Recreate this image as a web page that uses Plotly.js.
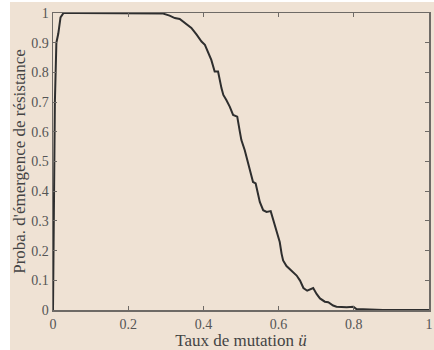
<!DOCTYPE html>
<html><head><meta charset="utf-8">
<script src="https://cdn.plot.ly/plotly-3.0.1.min.js"></script>
<style>
html,body{margin:0;padding:0;background:#ffffff;width:434px;height:350px;overflow:hidden;}
#chart{position:absolute;left:10px;top:2px;width:424px;height:348px;}
</style></head><body>
<div id="chart"></div>
<script>
const mutationRate = [0, 0.002, 0.005, 0.009, 0.014, 0.02, 0.028, 0.06, 0.1, 0.15, 0.2, 0.22, 0.25, 0.28, 0.293, 0.31, 0.324, 0.337, 0.35, 0.368, 0.382, 0.395, 0.404, 0.413, 0.421, 0.43, 0.439, 0.448, 0.453, 0.461, 0.47, 0.479, 0.484, 0.49, 0.497, 0.501, 0.51, 0.519, 0.528, 0.532, 0.539, 0.546, 0.55, 0.559, 0.568, 0.579, 0.586, 0.592, 0.599, 0.603, 0.608, 0.612, 0.621, 0.634, 0.648, 0.657, 0.666, 0.676, 0.685, 0.692, 0.701, 0.71, 0.723, 0.732, 0.745, 0.754, 0.781, 0.799, 0.807, 0.825, 0.878, 0.94, 1];
const resistanceProb = [0, 0.3, 0.7, 0.9, 0.93, 0.985, 1, 1, 1, 1, 0.998, 1, 0.999, 1, 0.998, 0.991, 0.983, 0.98, 0.968, 0.95, 0.927, 0.904, 0.893, 0.865, 0.842, 0.803, 0.803, 0.747, 0.724, 0.707, 0.685, 0.657, 0.653, 0.651, 0.6, 0.572, 0.538, 0.493, 0.448, 0.431, 0.426, 0.392, 0.364, 0.336, 0.33, 0.333, 0.302, 0.279, 0.251, 0.229, 0.189, 0.167, 0.148, 0.133, 0.116, 0.099, 0.074, 0.065, 0.071, 0.074, 0.054, 0.039, 0.028, 0.026, 0.015, 0.011, 0.009, 0.011, 0.003, 0.002, 0, 0, 0];
const xTicks = [0, 0.2, 0.4, 0.6, 0.8, 1];
const xTickLabels = ['0', '0.2', '0.4', '0.6', '0.8', '1'];
const yTicks = [0, 0.1, 0.2, 0.3, 0.4, 0.5, 0.6, 0.7, 0.8, 0.9, 1];
const yTickLabels = ['0', '0.1', '0.2', '0.3', '0.4', '0.5', '0.6', '0.7', '0.8', '0.9', '1'];

const serif = 'Liberation Serif, Times New Roman, serif';
const axisCommon = {
  showgrid: false, zeroline: false, showline: true, mirror: 'ticks',
  linecolor: '#6e6a66', linewidth: 1.5, ticks: 'inside', ticklen: 4,
  tickcolor: '#6e6a66', tickwidth: 1, tickmode: 'array',
  tickfont: {family: serif, size: 14, color: '#555'}
};
Plotly.newPlot('chart', [{
  x: mutationRate, y: resistanceProb, type: 'scatter', mode: 'lines',
  line: {color: '#2e2e2e', width: 2}, hoverinfo: 'skip'
}], {
  width: 424, height: 348,
  paper_bgcolor: '#efe2d4', plot_bgcolor: '#efe2d4',
  margin: {l: 43, r: 5, t: 11, b: 40},
  showlegend: false,
  xaxis: Object.assign({}, axisCommon, {
    range: [0, 1], tickvals: xTicks, ticktext: xTickLabels, ticklabelstandoff: 1,
    title: {text: 'Taux de mutation <i>ü</i>', font: {family: serif, size: 17, color: '#444'}, standoff: 0}
  }),
  yaxis: Object.assign({}, axisCommon, {
    range: [0, 1], tickvals: yTicks, ticktext: yTickLabels,
    title: {text: "Proba. d'émergence de résistance", font: {family: serif, size: 17, color: '#444'}, standoff: 5}
  })
}, {displayModeBar: false, staticPlot: true});
</script></body></html>
